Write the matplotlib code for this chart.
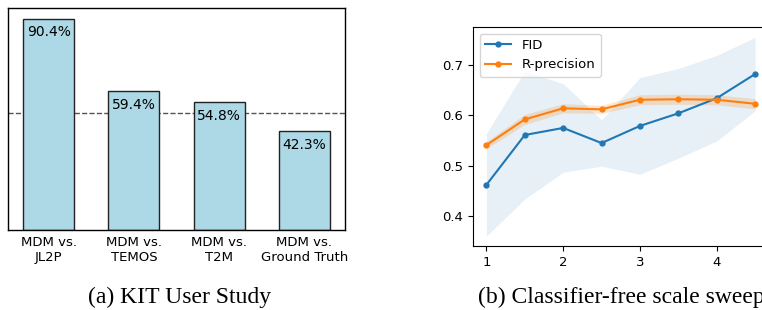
import matplotlib
matplotlib.use("Agg")
import matplotlib.pyplot as plt
import numpy as np

# ---- data ----
bar_labels = ["MDM vs.\nJL2P", "MDM vs.\nTEMOS", "MDM vs.\nT2M", "MDM vs.\nGround Truth"]
bar_values = [90.4, 59.4, 54.8, 42.3]
chance_level = 50

scales = [1, 1.5, 2, 2.5, 3, 3.5, 4, 4.5]
fid_mean = [0.462, 0.561, 0.575, 0.545, 0.579, 0.604, 0.634, 0.682]
fid_std = [0.102, 0.127, 0.088, 0.046, 0.096, 0.089, 0.085, 0.073]
rprec_mean = [0.541, 0.592, 0.614, 0.612, 0.631, 0.632, 0.631, 0.623]
rprec_std = [0.007, 0.010, 0.009, 0.008, 0.010, 0.010, 0.010, 0.010]

caption_a = "(a) KIT User Study"
caption_b = "(b) Classifier-free scale sweep"

W, H = 762, 310
fig = plt.figure(figsize=(W / 100, H / 100), dpi=100)
fs = 9.5

# ---- left: bar chart ----
ax1 = fig.add_axes([8 / W, 1 - 230 / H, (345 - 8) / W, (230 - 8) / H])
x = np.arange(len(bar_labels))
ax1.bar(x, bar_values, width=0.6, color="lightblue", edgecolor="#222222", linewidth=1.0)
ax1.axhline(chance_level, color="#555555", linestyle="--", linewidth=1.0, zorder=0)
for xi, v in zip(x, bar_values):
    ax1.annotate(f"{v}%", (xi, v), xytext=(0, -5), textcoords="offset points",
                 ha="center", va="top", fontsize=10)
ax1.set_ylim(0, 94.9)
ax1.set_yticks([])
ax1.set_xticks(x)
ax1.set_xticklabels(bar_labels, fontsize=fs)
ax1.tick_params(axis="x", length=0, pad=4)
for s in ax1.spines.values():
    s.set_linewidth(1.0)

# ---- right: line chart ----
ax2 = fig.add_axes([473 / W, 1 - 246 / H, (768.5 - 473) / W, (246 - 27) / H])
fm = np.array(fid_mean); fsd = np.array(fid_std)
rm = np.array(rprec_mean); rsd = np.array(rprec_std)
ax2.fill_between(scales, fm - fsd, fm + fsd, color="#1f77b4", alpha=0.11, linewidth=0)
ax2.fill_between(scales, rm - rsd, rm + rsd, color="#ff7f0e", alpha=0.2, linewidth=0)
ax2.plot(scales, fid_mean, marker="o", markersize=3.5, color="#1f77b4", label="FID")
ax2.plot(scales, rprec_mean, marker="o", markersize=3.5, color="#ff7f0e", label="R-precision")
ax2.set_xlim(0.825, 4.675)
ax2.set_ylim(0.3405, 0.7755)
ax2.set_xticks([1, 2, 3, 4])
ax2.set_yticks([0.4, 0.5, 0.6, 0.7])
ax2.tick_params(labelsize=fs)
ax2.legend(loc="upper left", fontsize=fs)

# ---- captions ----
fig.text(180 / W, 1 - 303 / H, caption_a, ha="center", va="baseline",
         fontsize=17, family="Liberation Serif")
fig.text(621 / W, 1 - 303 / H, caption_b, ha="center", va="baseline",
         fontsize=17, family="Liberation Serif")

fig.savefig("out.png", dpi=100)
